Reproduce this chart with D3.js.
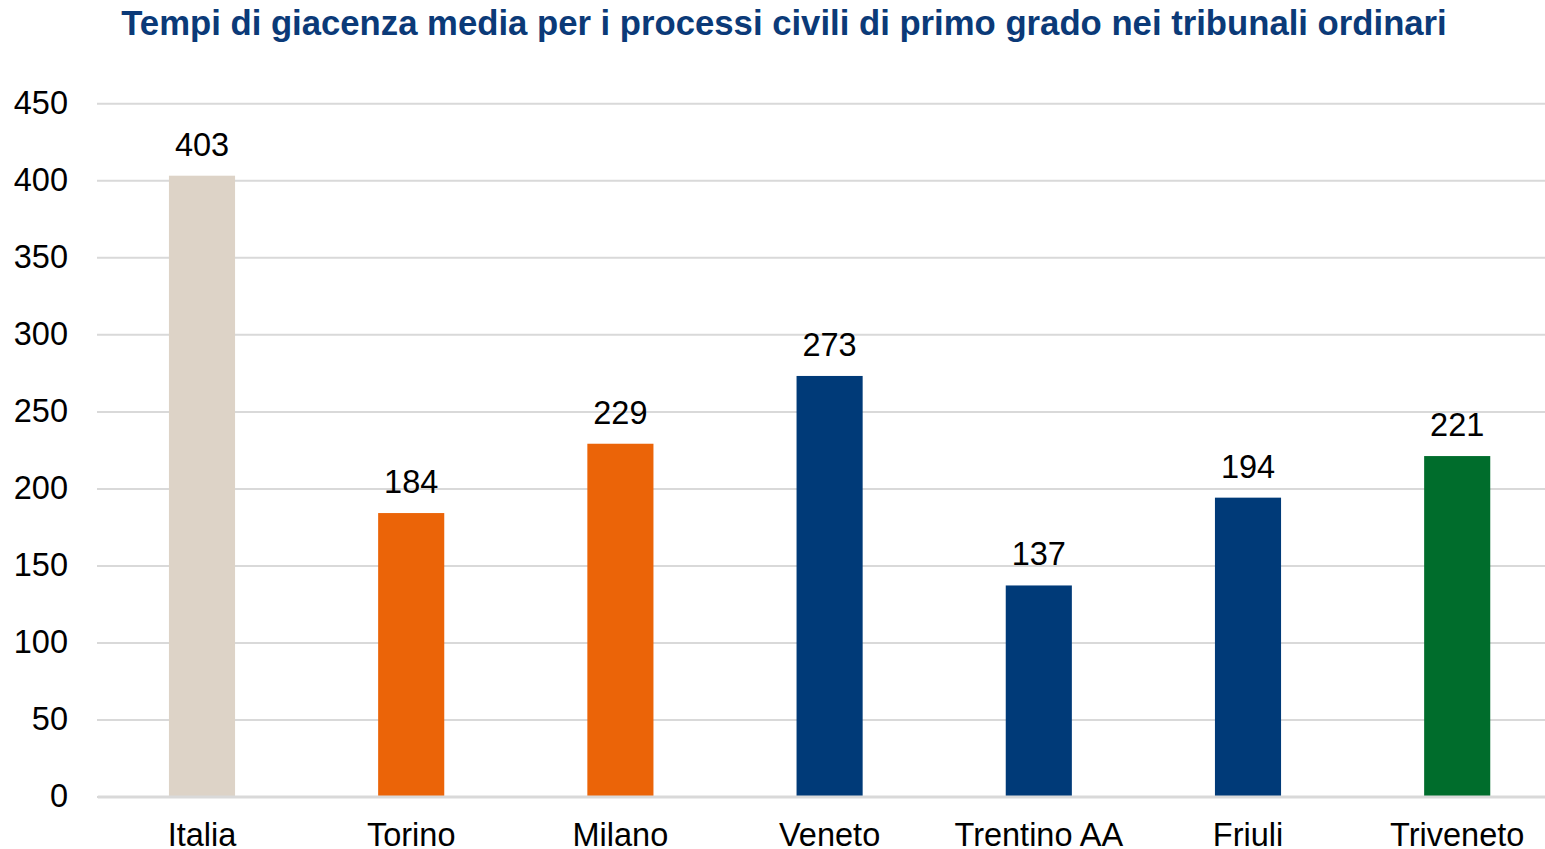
<!DOCTYPE html>
<html><head><meta charset="utf-8">
<script src="https://cdn.jsdelivr.net/npm/d3@7"></script>
<style>body{margin:0;background:#fff;overflow:hidden}text{font-family:"Liberation Sans",Arial,sans-serif}</style>
</head><body><svg id="c" width="1545" height="849"></svg>
<script>
const categories = ["Italia","Torino","Milano","Veneto","Trentino AA","Friuli","Triveneto"];
const values = [403,184,229,273,137,194,221];
const colors = ["#DDD3C7","#EB6408","#EB6408","#003A78","#003A78","#003A78","#006D2C"];
const yTicks = [0,50,100,150,200,250,300,350,400,450];

const FS = 32.5;
const svg = d3.select("#c");
const x = d3.scaleBand().domain(categories).range([97.4,1561.8]).paddingInner(0.684).paddingOuter(0.342);
const y = d3.scaleLinear().domain([0,450]).range([796.5,103.3]);

svg.append("text").attr("x",784).attr("y",35).attr("text-anchor","middle")
  .attr("font-weight","bold").attr("font-size",34.7).attr("fill","#0B3A78")
  .text("Tempi di giacenza media per i processi civili di primo grado nei tribunali ordinari");

const yAxis = svg.append("g").attr("transform","translate(97,0)")
  .call(d3.axisLeft(y).tickValues(yTicks).tickSize(-1448).tickPadding(29));
yAxis.select(".domain").remove();
yAxis.selectAll(".tick line").attr("stroke","#D9D9D9").attr("stroke-width",2);
yAxis.selectAll(".tick text").attr("font-size",FS).attr("fill","#000").attr("font-family","Liberation Sans, Arial, sans-serif");

svg.append("g").selectAll("rect").data(values).join("rect")
  .attr("x",(d,i)=>x(categories[i])).attr("width",x.bandwidth())
  .attr("y",d=>y(d)).attr("height",d=>y(0)-y(d)).attr("fill",(d,i)=>colors[i]);

const xAxis = svg.append("g").attr("transform",`translate(0,${y(0)})`)
  .call(d3.axisBottom(x).tickSize(0).tickPadding(26.5));
xAxis.select(".domain").attr("stroke","#D9D9D9").attr("stroke-width",3);
xAxis.selectAll(".tick text").attr("font-size",FS).attr("fill","#000").attr("font-family","Liberation Sans, Arial, sans-serif").attr("dy","0.71em");

svg.append("g").selectAll("text").data(values).join("text")
  .attr("x",(d,i)=>x(categories[i])+x.bandwidth()/2).attr("y",d=>y(d)-20)
  .attr("text-anchor","middle").attr("font-size",FS).attr("fill","#000").text(d=>d);
</script></body></html>
